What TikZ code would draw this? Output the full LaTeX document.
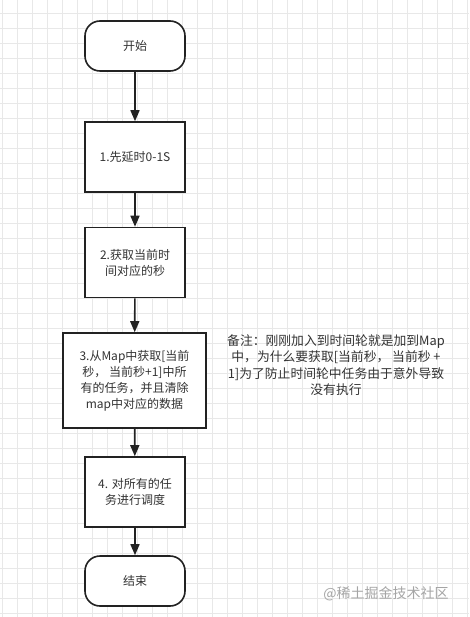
\documentclass[tikz,border=0pt]{standalone}
\usepackage{fontspec}
\usepackage{xcolor}
\usepackage{tikz}
\usetikzlibrary{arrows.meta,positioning}
\newfontfamily\cjk{Noto Sans CJK SC}
\definecolor{fcGrid}{RGB}{232,232,232}
\definecolor{fcLine}{RGB}{34,34,34}
\definecolor{fcText}{RGB}{51,51,51}
\definecolor{fcMark}{RGB}{165,165,165}

\begin{document}
\begin{tikzpicture}[
  x=1pt, y=-1pt,
  font=\cjk\fontsize{12}{16}\selectfont,
  term/.style={draw=fcLine, line width=1.6pt, fill=white, rounded corners=15pt, minimum width=100pt, minimum height=50pt, text=fcText},
  stepbox/.style={draw=fcLine, line width=1.6pt, fill=white, minimum width=100pt, minimum height=70pt, align=center, text=fcText},
  ar/.style={-{Triangle[length=11pt,width=9pt]}, draw=fcLine, line width=1.6pt}
]
\useasboundingbox (0,0) rectangle (469,617);
\fill[white] (0,0) rectangle (469,617);
% background grid
\foreach \gx in {2.3,17.3,...,469} \draw[fcGrid, line width=0.8pt] (\gx,0) -- (\gx,617);
\foreach \gy in {13.3,28.3,...,617} \draw[fcGrid, line width=0.8pt] (0,\gy) -- (469,\gy);

\node[term] (start) at (135,46) {开始};
\node[stepbox] (delay) at (135,157) {1.先延时0-1S};
\node[stepbox] (sec) at (135,262.5) {2.获取当前时\\间对应的秒};
\node[stepbox, minimum width=143pt, minimum height=95pt] (fetch) at (134.5,380.5)
  {3.从Map中获取[当前\\秒，\ 当前秒+1]中所\\有的任务，并且清除\\map中对应的数据};
\node[stepbox] (sched) at (135,492) {4. 对所有的任\\务进行调度};
\node[term] (stop) at (135,581) {结束};

\foreach \a/\b in {start/delay, delay/sec, sec/fetch, fetch/sched, sched/stop} \draw[ar] (\a) -- (\b);

\node[align=center, text=fcText, font=\cjk\fontsize{12.8}{16.5}\selectfont] (note) at (336,365)
  {备注：刚刚加入到时间轮就是加到Map\\中，为什么要获取[当前秒，\ 当前秒 +\\1]为了防止时间轮中任务由于意外导致\\没有执行};
\node[text=fcMark, font=\cjk\fontsize{14}{16}\selectfont] (mark) at (386,594) {@稀土掘金技术社区};
\end{tikzpicture}
\end{document}
